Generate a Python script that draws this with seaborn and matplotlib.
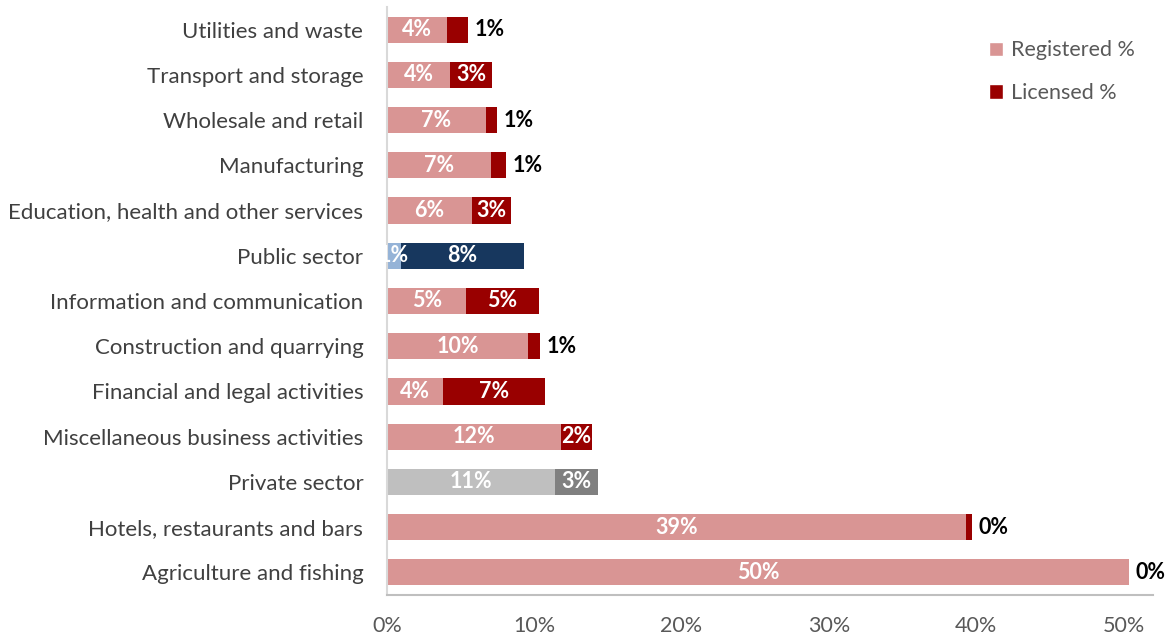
import matplotlib
matplotlib.use("Agg")
import matplotlib.pyplot as plt
from matplotlib.patches import Patch
import seaborn as sns
import pandas as pd

# Sectors, top to bottom
sectors = [
    "Utilities and waste",
    "Transport and storage",
    "Wholesale and retail",
    "Manufacturing",
    "Education, health and other services",
    "Public sector",
    "Information and communication",
    "Construction and quarrying",
    "Financial and legal activities",
    "Miscellaneous business activities",
    "Private sector",
    "Hotels, restaurants and bars",
    "Agriculture and fishing",
]
registered = [4.1, 4.3, 6.7, 7.05, 5.8, 0.95, 5.4, 9.6, 3.8, 11.8, 11.4, 39.3, 50.4]
licensed = [1.4, 2.8, 0.8, 1.0, 2.6, 8.35, 4.9, 0.8, 6.9, 2.1, 2.9, 0.4, 0.0]
x_ticks = [0, 10, 20, 30, 40, 50]

REG = "#D99594"
LIC = "#990000"
light_colors = {s: REG for s in sectors}
dark_colors = {s: LIC for s in sectors}
light_colors["Public sector"] = "#95B3D7"
dark_colors["Public sector"] = "#17375E"
light_colors["Private sector"] = "#BFBFBF"
dark_colors["Private sector"] = "#808080"

df = pd.DataFrame({"sector": sectors, "registered": registered, "licensed": licensed})
df["total"] = df["registered"] + df["licensed"]

sns.set_theme(style="white")
plt.rcParams["font.family"] = ["Lato", "DejaVu Sans"]

fig = plt.figure(figsize=(11.74, 6.39), dpi=100)
ax = fig.add_axes([0.3296, 0.069, 0.6524, 0.92])

BAR_H = 0.58
# Full stack (registered + licensed) drawn first, registered part laid over it
sns.barplot(data=df, x="total", y="sector", hue="sector", palette=dark_colors,
            order=sectors, hue_order=sectors, width=BAR_H, legend=False,
            ax=ax, saturation=1, edgecolor="none", linewidth=0)
sns.barplot(data=df, x="registered", y="sector", hue="sector", palette=light_colors,
            order=sectors, hue_order=sectors, width=BAR_H, legend=False,
            ax=ax, saturation=1, edgecolor="none", linewidth=0)

# Value labels
LBL = 15.5
for i, (r, l) in enumerate(zip(registered, licensed)):
    ax.text(r / 2, i, f"{round(r)}%", ha="center", va="center",
            color="white", fontsize=LBL, fontweight="bold")
    if l >= 2:
        ax.text(r + l / 2, i, f"{round(l)}%", ha="center", va="center",
                color="white", fontsize=LBL, fontweight="bold")
    else:
        ax.text(r + l + 0.45, i, f"{round(l)}%", ha="left", va="center",
                color="black", fontsize=LBL, fontweight="bold")

ax.set_xlim(0, 52)
ax.set_ylim(len(sectors) - 0.5, -0.5)
ax.set_xticks(x_ticks)
ax.set_xticklabels([f"{t}%" for t in x_ticks])
ax.set_xlabel("")
ax.set_ylabel("")
ax.tick_params(axis="x", colors="#595959", labelsize=15.5, length=0, pad=15)
ax.tick_params(axis="y", colors="#404040", labelsize=16, length=0, pad=17)

for side in ["top", "right"]:
    ax.spines[side].set_visible(False)
ax.spines["left"].set_color("#D9D9D9")
ax.spines["left"].set_linewidth(1.5)
ax.spines["bottom"].set_color("#BFBFBF")
ax.spines["bottom"].set_linewidth(1.5)
ax.grid(False)

handles = [Patch(facecolor=REG, label="Registered %"), Patch(facecolor=LIC, label="Licensed %")]
fig.legend(handles=handles, loc="upper left", bbox_to_anchor=(0.826, 0.967),
           frameon=False, fontsize=15.5, labelcolor="#595959",
           handlelength=0.65, handleheight=0.65, handletextpad=0.35, labelspacing=1.05)

fig.savefig("out.png", dpi=100)
